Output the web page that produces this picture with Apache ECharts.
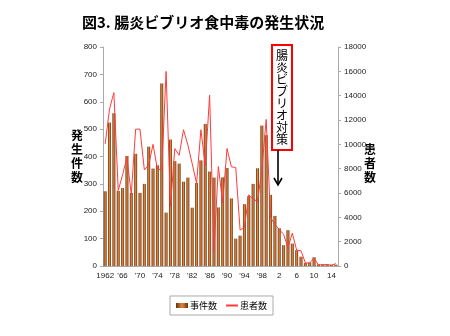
<!DOCTYPE html>
<html><head><meta charset="utf-8">
<script src="https://cdn.jsdelivr.net/npm/echarts@6/dist/echarts.min.js"></script>
<style>html,body{margin:0;padding:0;background:#fff}#c{width:450px;height:336px}</style>
</head><body><div id="c"></div>
<script>
const years = ['1962','1963','1964','1965','1966','1967','1968','1969','1970','1971','1972','1973','1974','1975','1976','1977','1978','1979','1980','1981','1982','1983','1984','1985','1986','1987','1988','1989','1990','1991','1992','1993','1994','1995','1996','1997','1998','1999','2000','2001','2002','2003','2004','2005','2006','2007','2008','2009','2010','2011','2012','2013','2014','2015'];
const tickLabels = ['1962',"'66","'70","'74","'78","'82","'86","'90","'94","'98",'2','6','10','14'];
const incidents = [273,524,558,274,285,402,267,410,267,300,436,356,368,667,195,462,383,374,308,323,213,303,386,519,345,323,214,324,358,247,100,111,226,255,300,357,513,478,260,183,138,76,131,82,58,34,11,13,32,6,6,6,5,5];
const patients = [10040,12900,14250,6200,7500,8900,5900,11250,11250,7900,8300,10000,7950,7900,16000,4900,9650,9100,11200,9950,8400,6800,11200,8250,14050,1200,8170,5200,9650,8150,8100,2950,3200,5850,5500,5300,7900,12050,4000,3400,3000,2600,1500,2700,1300,1250,250,250,650,100,100,120,50,200];
const seriesNames = ['事件数','患者数'];
const titleText = '図3. 腸炎ビブリオ食中毒の発生状況';
const annotText = '腸炎ビブリオ対策';

const FONT = '"Liberation Sans","Noto Sans CJK JP",sans-serif';
const JFONT = '"Noto Sans CJK JP",sans-serif';
const LINE_RED = '#ff3b3b';
const chart = echarts.init(document.getElementById('c'), null, {renderer:'canvas'});
const barColor = new echarts.graphic.LinearGradient(0,0,1,0,[
  {offset:0,color:'#5e3414'},{offset:0.5,color:'#e8853a'},{offset:1,color:'#5e3414'}]);
chart.setOption({
  animation:false,
  backgroundColor:'#fff',
  title:{text:titleText,left:77,top:10,textStyle:{fontFamily:JFONT,fontSize:15,fontWeight:'bold',color:'#000'}},
  grid:{left:103,right:112,top:47,bottom:70,containLabel:false},
  legend:{data:[{name:seriesNames[0],icon:'rect'},
                {name:seriesNames[1],itemStyle:{opacity:0}}],
    bottom:21,left:170,
    itemWidth:12,itemHeight:5,itemGap:8,padding:[5,6],borderColor:'#aaa',borderWidth:1,
    textStyle:{fontFamily:JFONT,fontSize:9,color:'#000',padding:[0,0,0,-3]}},
  xAxis:{type:'category',data:years,boundaryGap:true,
    axisLine:{lineStyle:{color:'#aaa'}},axisTick:{show:false},
    axisLabel:{interval:3,margin:6,fontSize:8,color:'#222',fontFamily:FONT,
      formatter:(v,i)=>tickLabels[i/4]||''}},
  yAxis:[
    {type:'value',min:0,max:800,interval:100,
      name:'発\n生\n件\n数',nameLocation:'middle',nameRotate:0,nameGap:20,nameMoveOverlap:false,
      nameTextStyle:{fontFamily:JFONT,fontSize:12,fontWeight:'bold',color:'#000',lineHeight:14},
      axisLine:{show:true,lineStyle:{color:'#aaa'}},axisTick:{show:true,length:3,lineStyle:{color:'#aaa'}},
      splitLine:{show:false},axisLabel:{fontSize:8,color:'#222',margin:6,fontFamily:FONT}},
    {type:'value',min:0,max:18000,interval:2000,position:'right',
      name:'\n患\n者\n数',nameLocation:'middle',nameRotate:0,nameGap:26,nameMoveOverlap:false,
      nameTextStyle:{fontFamily:JFONT,fontSize:12,fontWeight:'bold',color:'#000',lineHeight:14},
      axisLine:{show:true,lineStyle:{color:'#aaa'}},axisTick:{show:true,length:3,lineStyle:{color:'#aaa'}},
      splitLine:{show:false},axisLabel:{fontSize:8,color:'#222',margin:6,fontFamily:FONT,formatter:v=>String(v)}}
  ],
  series:[
    {name:seriesNames[0],type:'bar',data:incidents,barWidth:3,yAxisIndex:0,
      itemStyle:{color:barColor,borderColor:'#4a2a10',borderWidth:0}},
    {name:seriesNames[1],type:'line',data:patients,yAxisIndex:1,symbol:'circle',showSymbol:false,
      lineStyle:{color:LINE_RED,width:1},itemStyle:{color:LINE_RED}}
  ],
  graphic:[
    {type:'rect',shape:{x:272,y:45,width:20,height:105},style:{fill:'#fff',stroke:'#ff0000',lineWidth:2},z:100},
    {type:'text',style:{text:annotText.split('').join('\n'),x:282,y:49,align:'center',verticalAlign:'top',
      font:'12px '+JFONT,lineHeight:12,fill:'#000'},z:101},
    {type:'line',shape:{x1:278,y1:150,x2:278,y2:184},style:{stroke:'#000',lineWidth:1.6},z:100},
    {type:'polyline',shape:{points:[[274,178],[278,185],[282,178]]},style:{stroke:'#000',lineWidth:1.6,fill:null},z:100}
  ]
});
</script></body></html>
